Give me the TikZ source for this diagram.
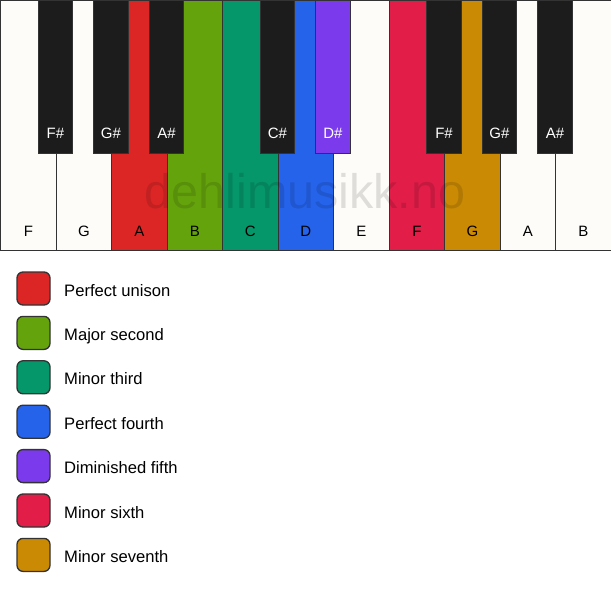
\documentclass[tikz,border=0pt]{standalone}
\usepackage{fontspec}
\setmainfont{Liberation Sans}
\definecolor{ivory}{HTML}{FDFCF9}
\definecolor{ebony}{HTML}{1C1C1C}
\definecolor{keyline}{HTML}{333333}
\definecolor{unison}{HTML}{DC2626}
\definecolor{second}{HTML}{65A30D}
\definecolor{minthird}{HTML}{059669}
\definecolor{fourth}{HTML}{2563EB}
\definecolor{dimfifth}{HTML}{7C3AED}
\definecolor{minsixth}{HTML}{E11D48}
\definecolor{minseventh}{HTML}{CA8A04}
\begin{document}
\begin{tikzpicture}[x=1pt, y=-1pt,
  whitekey/.style={draw=keyline, line width=1.3pt, anchor=north west, inner sep=0pt,
    minimum width=55.5pt, minimum height=250pt},
  blackkey/.style={draw=keyline, line width=1pt, fill=ebony, anchor=north, inner sep=0pt,
    minimum width=34.5pt, minimum height=153pt},
  keyname/.style={anchor=base, font=\fontsize{15}{18}\selectfont},
  swatch/.style={draw=keyline, line width=1.3pt, rounded corners=6pt, minimum size=33pt, inner sep=0pt},
  legendtext/.style={anchor=base west, inner sep=0pt, font=\fontsize{16.6}{19}\selectfont},
  watermark/.style={anchor=base, text=black, text opacity=0.12, font=\fontsize{48.5}{52}\selectfont}]
\useasboundingbox (0,0) rectangle (611,594);
\fill[white] (0,0) rectangle (611,594);
\foreach \i/\n/\c in {0/F/ivory, 1/G/ivory, 2/A/unison, 3/B/second, 4/C/minthird, 5/D/fourth,
  6/E/ivory, 7/F/minsixth, 8/G/minseventh, 9/A/ivory, 10/B/ivory} {
  \node[whitekey, fill=\c] (w\i) at (\i*55.5,0) {};
  \node[keyname] (wn\i) at ([yshift=-236pt]w\i.north) {\n};
}
\foreach \i/\n/\c in {1/F\#/ebony, 2/G\#/ebony, 3/A\#/ebony, 5/C\#/ebony, 6/D\#/dimfifth,
  8/F\#/ebony, 9/G\#/ebony, 10/A\#/ebony} {
  \node[blackkey, fill=\c] (b\i) at (\i*55.5,0) {};
  \node[keyname, text=white] (bn\i) at ([yshift=-138.5pt]b\i.north) {\n};
}
\node[watermark] (mark) at (305,208) {dehlimusikk.no};
\foreach \k/\c/\t in {0/unison/Perfect unison, 1/second/Major second, 2/minthird/Minor third,
  3/fourth/Perfect fourth, 4/dimfifth/Diminished fifth, 5/minsixth/Minor sixth,
  6/minseventh/Minor seventh} {
  \node[swatch, fill=\c] (s\k) at (33.5,288.5+\k*44.4) {};
  \node[legendtext] (t\k) at (64,296+\k*44.4) {\t};
}
\end{tikzpicture}
\end{document}
